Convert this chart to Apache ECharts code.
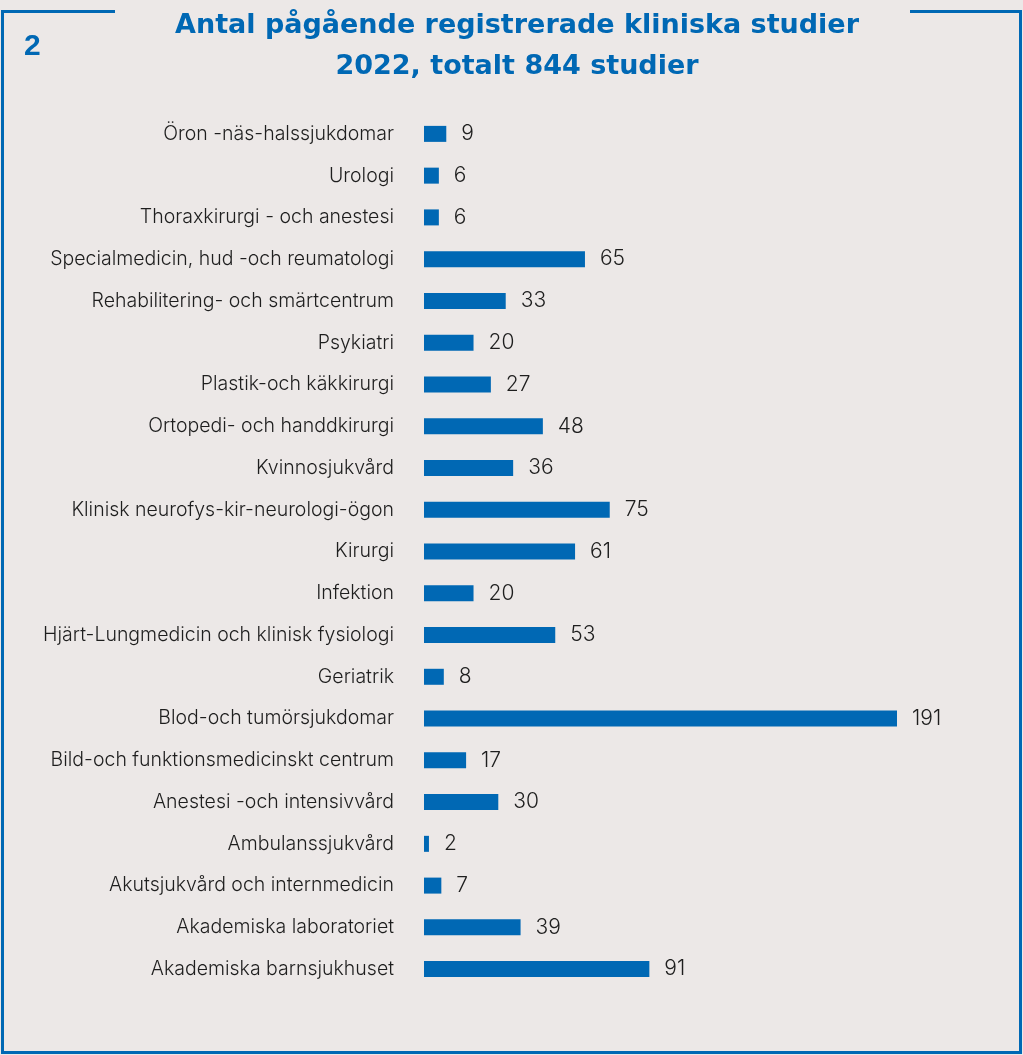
<!DOCTYPE html>
<html><head><meta charset="utf-8">
<script src="https://cdn.jsdelivr.net/npm/echarts@6/dist/echarts.min.js"></script>
<style>html,body{margin:0;padding:0;background:#ECE8E7;}#c{width:1023px;height:1055px;}</style>
</head><body><div id="c"></div>
<script>
const categories = ["Öron -näs-halssjukdomar","Urologi","Thoraxkirurgi - och anestesi","Specialmedicin, hud -och reumatologi","Rehabilitering- och smärtcentrum","Psykiatri","Plastik-och käkkirurgi","Ortopedi- och handdkirurgi","Kvinnosjukvård","Klinisk neurofys-kir-neurologi-ögon","Kirurgi","Infektion","Hjärt-Lungmedicin och klinisk fysiologi","Geriatrik","Blod-och tumörsjukdomar","Bild-och funktionsmedicinskt centrum","Anestesi -och intensivvård","Ambulanssjukvård","Akutsjukvård och internmedicin","Akademiska laboratoriet","Akademiska barnsjukhuset"];
const values = [9,6,6,65,33,20,27,48,36,75,61,20,53,8,191,17,30,2,7,39,91];
const titleText = "Antal pågående registrerade kliniska studier\n2022, totalt 844 studier";
const figureNumber = "2";

const blue = "#0068B4";
const textFont = 'Inter';
const chart = echarts.init(document.getElementById('c'));
chart.setOption({
  backgroundColor: "#ECE8E7",
  animation: false,
  title: {
    text: titleText, left: 512, top: 0, textAlign: 'center',
    textStyle: {color: blue, fontSize: 27, fontWeight: 'bold', fontFamily: 'DejaVu Sans', lineHeight: 41}
  },
  grid: {left: 424, width: 473, top: 113, bottom: 65, containLabel: false},
  xAxis: {type: 'value', min: 0, max: 191, show: false},
  yAxis: {type: 'category', data: categories, inverse: true,
    axisLine: {show: false}, axisTick: {show: false},
    axisLabel: {margin: 30, color: '#1e1e1e', fontSize: 19.5, fontWeight: 300, fontFamily: textFont}},
  series: [{type: 'bar', data: values, barWidth: 16, itemStyle: {color: blue},
    label: {show: true, position: 'right', distance: 15, color: '#1e1e1e', fontSize: 21, fontWeight: 300, fontFamily: textFont}}],
  graphic: [
    {type: 'polyline', shape: {points: [[115, 11.5], [2.5, 11.5], [2.5, 1052.5], [1020.5, 1052.5], [1020.5, 11.5], [910, 11.5]]},
     style: {stroke: blue, lineWidth: 3, fill: null}},
    {type: 'text', left: 24, top: 32, style: {text: figureNumber, fill: blue, fontSize: 30, fontWeight: 'bold', fontFamily: 'Liberation Sans'}}
  ]
});
</script></body></html>
